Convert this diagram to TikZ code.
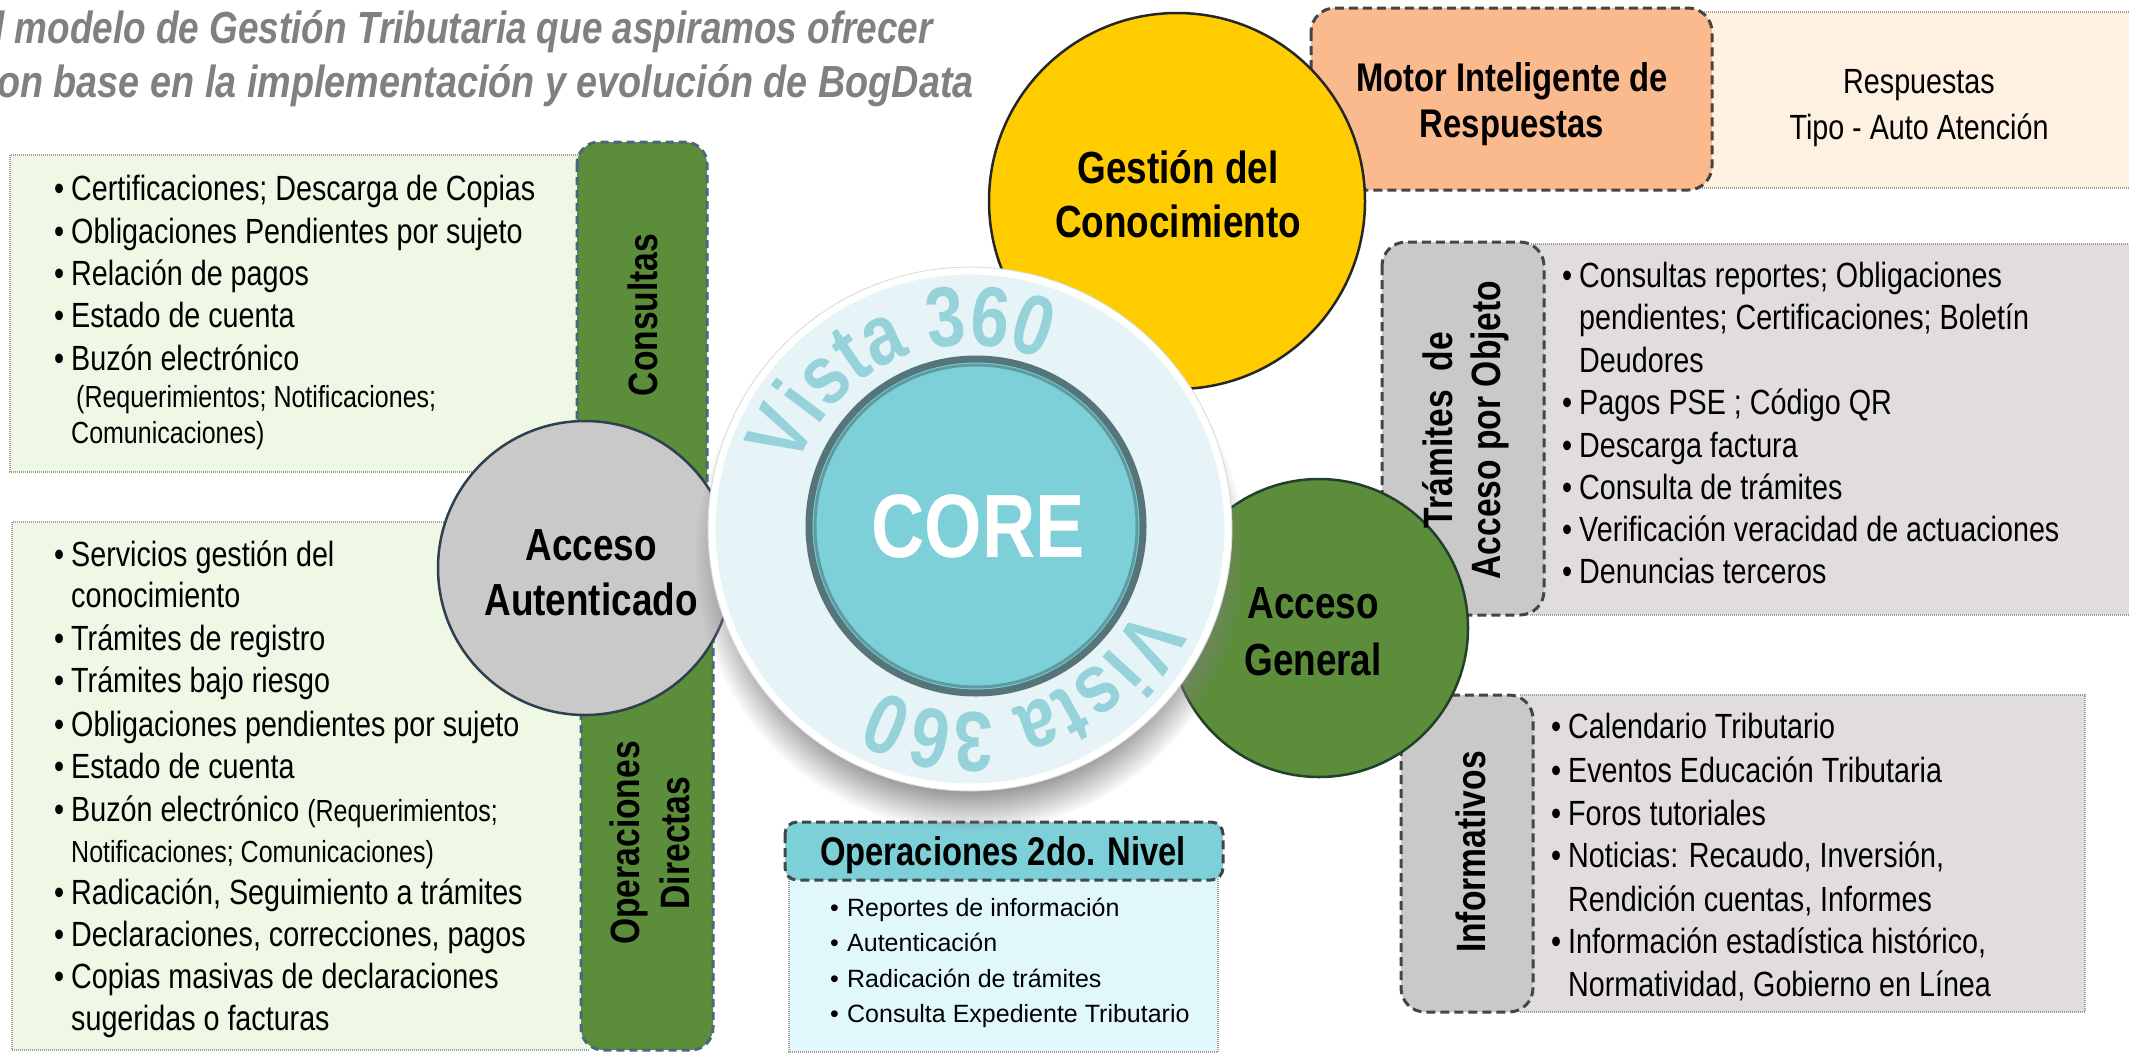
\documentclass[tikz,border=0pt]{standalone}
\usepackage{fontspec}
\setmainfont{Liberation Sans}
\newfontfamily\nar[FakeStretch=0.82]{Liberation Sans}
\newfontfamily\narw[FakeStretch=0.84]{Liberation Sans}
\usetikzlibrary{decorations.text,shadows}
\definecolor{titlegray}{HTML}{808080}
\definecolor{lgreen}{HTML}{EEF8E4}
\definecolor{dgreen}{HTML}{5C8D3B}
\definecolor{barline}{HTML}{4A6680}
\definecolor{boxline}{HTML}{9C9C9C}
\definecolor{dashline}{HTML}{454545}
\definecolor{ccgray}{HTML}{C9C9C9}
\definecolor{circline}{HTML}{2E3F50}
\definecolor{yellowc}{HTML}{FFCC00}
\definecolor{orangeb}{HTML}{FBBA8D}
\definecolor{peach}{HTML}{FEF1E2}
\definecolor{tabgray}{HTML}{C9C9C9}
\definecolor{listgray}{HTML}{E1DDDD}
\definecolor{teal}{HTML}{7ED0D8}
\definecolor{lcyan}{HTML}{E0F8FC}
\definecolor{ringfill}{HTML}{E6F4F7}
\definecolor{vista}{HTML}{96D2D9}
\definecolor{tealrim}{HTML}{557579}
\definecolor{greenline}{HTML}{22402A}
\newcommand{\bu}{\makebox[17pt][l]{•}}
\newcommand{\bi}{\hspace*{17pt}}
\newcommand{\vistafont}{\nar\bfseries\fontsize{85}{87}\selectfont\color{vista}}
\tikzset{
  listbox/.style={draw=boxline, line width=2.5pt, dash pattern=on 1pt off 1pt},
  dashbord/.style={draw=dashline, line width=3pt, dash pattern=on 9pt off 5pt},
  bardash/.style={draw=barline, line width=3pt, dash pattern=on 8pt off 5pt},
  li/.style={anchor=base west, inner sep=0pt, font={\nar\fontsize{35}{42}\selectfont}},
  lis/.style={anchor=base west, inner sep=0pt, font={\nar\fontsize{30.5}{36}\selectfont}},
  lio/.style={anchor=base west, inner sep=0pt, font={\fontsize{25}{36}\selectfont}},
  vlab/.style={rotate=90, inner sep=0pt, align=center, font={\nar\bfseries\fontsize{41}{50}\selectfont}},
  clab/.style={inner sep=0pt, align=center, font={\nar\bfseries\fontsize{45}{55}\selectfont}},
  titl/.style={anchor=base east, inner sep=0pt, text=titlegray, font={\nar\bfseries\itshape\fontsize{45}{54}\selectfont}},
  vistadeco/.style={decorate, decoration={text along path, text align=center, text={|\vistafont|Vista 360}}}
}
\begin{document}
\begin{tikzpicture}[x=1pt,y=-1pt]
\useasboundingbox (0,0) rectangle (2129,1058);
\clip (0,0) rectangle (2129,1058);
% ---- title
\node[titl] (t1) at (933,43) {El modelo de Gestión Tributaria que aspiramos ofrecer};
\node[titl, font={\narw\bfseries\itshape\fontsize{45}{54}\selectfont}] (t2) at (974,97) {con base en la implementación y evolución de BogData};
% ---- left list boxes
\fill[lgreen] (10,155) rectangle (590,472);
\draw[listbox] (590,155) -- (10,155) -- (10,472) -- (590,472);
\fill[lgreen] (12,522) rectangle (590,1050);
\draw[listbox] (590,522) -- (12,522) -- (12,1050) -- (590,1050);
% ---- green bars
\draw[bardash, fill=dgreen, rounded corners=22pt] (577,142) rectangle (707,560);
\draw[bardash, fill=dgreen, rounded corners=22pt] (581,560) rectangle (713,1050);
% ---- top right boxes
\fill[peach] (1700,12) rectangle (2140,188);
\draw[listbox] (1700,12) -- (2140,12);
\draw[listbox] (1700,188) -- (2140,188);
\draw[dashbord, fill=orangeb, rounded corners=24pt] (1311,8) rectangle (1712,190);
% ---- Trámites
\fill[listgray] (1530,244) rectangle (2140,615);
\draw[listbox] (2140,244) -- (1530,244);
\draw[listbox] (1530,615) -- (2140,615);
\draw[dashbord, fill=tabgray, rounded corners=24pt] (1382,242) rectangle (1544,615);
% ---- Informativos
\fill[listgray] (1520,695) rectangle (2085,1012);
\draw[listbox] (1520,695) -- (2085,695) -- (2085,1012) -- (1520,1012);
\draw[dashbord, fill=tabgray, rounded corners=24pt] (1401,695) rectangle (1533,1012);
% ---- Operaciones 2do nivel
\fill[lcyan] (789,875) rectangle (1218,1052);
\draw[listbox] (789,875) -- (789,1052) -- (1218,1052) -- (1218,875);
\draw[dashbord, fill=teal, rounded corners=12pt] (785,822) rectangle (1223,880);
% ---- circles
\draw[draw=circline, line width=2.5pt, fill=ccgray] (585,568) circle[radius=147];
\draw[draw=black!85, line width=2.5pt, fill=yellowc] (1177,201) circle[radius=188];
\draw[draw=greenline, line width=2.5pt, fill=dgreen] (1319,628) circle[radius=149];
% ---- core ring
\path[circular drop shadow={shadow xshift=0pt, shadow yshift=-26pt, shadow scale=1.05, opacity=0.8}, fill=ringfill] (970,529) circle[radius=262];
\draw[white, line width=7pt] (970,529) circle[radius=258];
\draw[black!15, line width=0.8pt] (970,529) circle[radius=262];
\draw[tealrim, line width=7pt, fill=teal] (976,526) circle[radius=167];
\draw[teal!75!black, line width=3pt] (976,526) circle[radius=161];
\begin{scope}[shift={(970,529)}, x=1pt, y=1pt]
  \path[vistadeco] (165:184) arc[start angle=165, end angle=62, radius=184];
  \path[vistadeco] (-14:184) arc[start angle=-14, end angle=-130, radius=184];
\end{scope}
\node[inner sep=0pt, text=white, font={\nar\bfseries\fontsize{90}{90}\selectfont}] (core) at (978,527) {CORE};
% ---- circle labels
\node[clab] (aat) at (591,573) {Acceso\\Autenticado};
\node[clab, font={\nar\bfseries\fontsize{45}{54}\selectfont}] (gct) at (1178,194) {Gestión del\\Conocimiento};
\node[clab, font={\nar\bfseries\fontsize{45}{57}\selectfont}] (agt) at (1313,632) {Acceso\\General};
\node[inner sep=0pt, align=center, font={\nar\bfseries\fontsize{40}{46}\selectfont}] (motor) at (1512,104) {Motor Inteligente de\\Respuestas};
\node[inner sep=0pt, align=center, font={\nar\fontsize{35}{46}\selectfont}] (resp) at (1919,108) {Respuestas\\Tipo - Auto Atención};
\node[inner sep=0pt, font={\nar\bfseries\fontsize{40}{46}\selectfont}] (op2t) at (1003,855) {Operaciones 2do. Nivel};
% ---- vertical labels
\node[vlab] (cons) at (643,315) {Consultas};
\node[vlab] (opd) at (650,843) {Operaciones\\Directas};
\node[vlab, font={\nar\bfseries\fontsize{41}{48}\selectfont}] (tram) at (1466,430) {Trámites\ \ de\\Acceso por Objeto};
\node[vlab] (info) at (1471,852) {Informativos};
% ---- Consultas list
\node[li] (c1) at (54,200) {\bu Certificaciones; Descarga de Copias};
\node[li] (c2) at (54,243) {\bu Obligaciones Pendientes por sujeto};
\node[li] (c3) at (54,285) {\bu Relación de pagos};
\node[li] (c4) at (54,327) {\bu Estado de cuenta};
\node[li] (c5) at (54,370) {\bu Buzón electrónico};
\node[lis] (c6) at (76,407) {(Requerimientos; Notificaciones;};
\node[lis] (c7) at (71,443) {Comunicaciones)};
% ---- Operaciones directas list
\node[li] (o1) at (54,566) {\bu Servicios gestión del};
\node[li] (o2) at (54,607) {\bi conocimiento};
\node[li] (o3) at (54,650) {\bu Trámites de registro};
\node[li] (o4) at (54,692) {\bu Trámites bajo riesgo};
\node[li] (o5) at (54,736) {\bu Obligaciones pendientes por sujeto};
\node[li] (o6) at (54,778) {\bu Estado de cuenta};
\node[li] (o7) at (54,821) {\bu Buzón electrónico {\fontsize{30.5}{36}\selectfont(Requerimientos;}};
\node[lis] (o8) at (71,862) {Notificaciones;\ Comunicaciones)};
\node[li] (o9) at (54,904) {\bu Radicación, Seguimiento a trámites};
\node[li] (o10) at (54,946) {\bu Declaraciones, correcciones, pagos};
\node[li] (o11) at (54,988) {\bu Copias masivas de declaraciones};
\node[li] (o12) at (54,1030) {\bi sugeridas o facturas};
% ---- Trámites list
\node[li] (r1) at (1562,287) {\bu Consultas reportes; Obligaciones};
\node[li] (r2) at (1562,329) {\bi pendientes; Certificaciones; Boletín};
\node[li] (r3) at (1562,372) {\bi Deudores};
\node[li] (r4) at (1562,414) {\bu Pagos PSE ; Código QR};
\node[li] (r5) at (1562,457) {\bu Descarga factura};
\node[li] (r6) at (1562,499) {\bu Consulta de trámites};
\node[li] (r7) at (1562,541) {\bu Verificación veracidad de actuaciones};
\node[li] (r8) at (1562,583) {\bu Denuncias terceros};
% ---- Informativos list
\node[li] (i1) at (1551,738) {\bu Calendario Tributario};
\node[li] (i2) at (1551,782) {\bu Eventos Educación Tributaria};
\node[li] (i3) at (1551,825) {\bu Foros tutoriales};
\node[li] (i4) at (1551,867) {\bu Noticias: Recaudo, Inversión,};
\node[li] (i5) at (1551,911) {\bi Rendición cuentas, Informes};
\node[li] (i6) at (1551,953) {\bu Información estadística histórico,};
\node[li] (i7) at (1551,996) {\bi Normatividad, Gobierno en Línea};
% ---- Operaciones 2do nivel list
\node[lio] (p1) at (830,916) {\bu Reportes de información};
\node[lio] (p2) at (830,951) {\bu Autenticación};
\node[lio] (p3) at (830,987) {\bu Radicación de trámites};
\node[lio] (p4) at (830,1022) {\bu Consulta Expediente Tributario};
\end{tikzpicture}
\end{document}
